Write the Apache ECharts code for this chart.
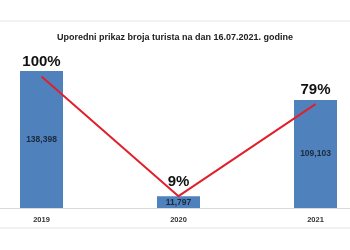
<!DOCTYPE html>
<html><head><meta charset="utf-8">
<script src="https://cdn.jsdelivr.net/npm/echarts@6/dist/echarts.min.js"></script>
<style>html,body{margin:0;padding:0;background:#fff}#c{width:350px;height:250px}</style>
</head><body><div id="c"></div>
<script>
const categories = ['2019', '2020', '2021'];
const tourists = [138398, 11797, 109103];
const percents = [100, 9, 79];
const title = 'Uporedni prikaz broja turista na dan 16.07.2021. godine';

const chart = echarts.init(document.getElementById('c'), null, {renderer: 'canvas'});
chart.setOption({
  animation: false,
  backgroundColor: '#fff',
  title: {
    text: title, left: 'center', top: 28,
    textStyle: {fontFamily: 'Liberation Sans', fontSize: 9, fontWeight: 'bold', color: '#222'}
  },
  graphic: [
    {type: 'line', shape: {x1: 0, y1: 21, x2: 350, y2: 21}, style: {stroke: '#e4e4e4', lineWidth: 1}},
    {type: 'line', shape: {x1: 0, y1: 228, x2: 350, y2: 228}, style: {stroke: '#e4e4e4', lineWidth: 1}}
  ],
  grid: {left: -27, right: -34, top: 59.5, bottom: 42, outerBoundsMode: 'none', containLabel: false},
  xAxis: {
    type: 'category', data: categories,
    axisLine: {lineStyle: {color: '#d9d9d9'}},
    axisTick: {show: false},
    axisLabel: {fontFamily: 'Liberation Sans', fontSize: 7.5, fontWeight: 'bold', color: '#333', margin: 8}
  },
  yAxis: [
    {type: 'value', min: 0, max: 150000, show: false, splitLine: {show: false}},
    {type: 'value', min: 0, max: 113, show: false, splitLine: {show: false}}
  ],
  series: [
    {
      type: 'bar', data: tourists, barWidth: 43, yAxisIndex: 0,
      itemStyle: {color: '#4f81bd'},
      label: {
        show: true, position: 'inside',
        formatter: p => p.value.toLocaleString('en-US'),
        fontFamily: 'Liberation Sans', fontSize: 8.5, fontWeight: 'bold', color: '#1c2a3a'
      }
    },
    {
      type: 'line', data: percents, yAxisIndex: 1,
      symbol: 'circle', symbolSize: 0, showSymbol: true,
      lineStyle: {color: '#e0202a', width: 2},
      itemStyle: {color: '#e0202a'},
      label: {
        show: true, position: 'top', distance: 7,
        formatter: p => p.value + '%',
        fontFamily: 'Liberation Sans', fontSize: 15, fontWeight: 'bold', color: '#111'
      },
      z: 5
    }
  ]
});
</script></body></html>
